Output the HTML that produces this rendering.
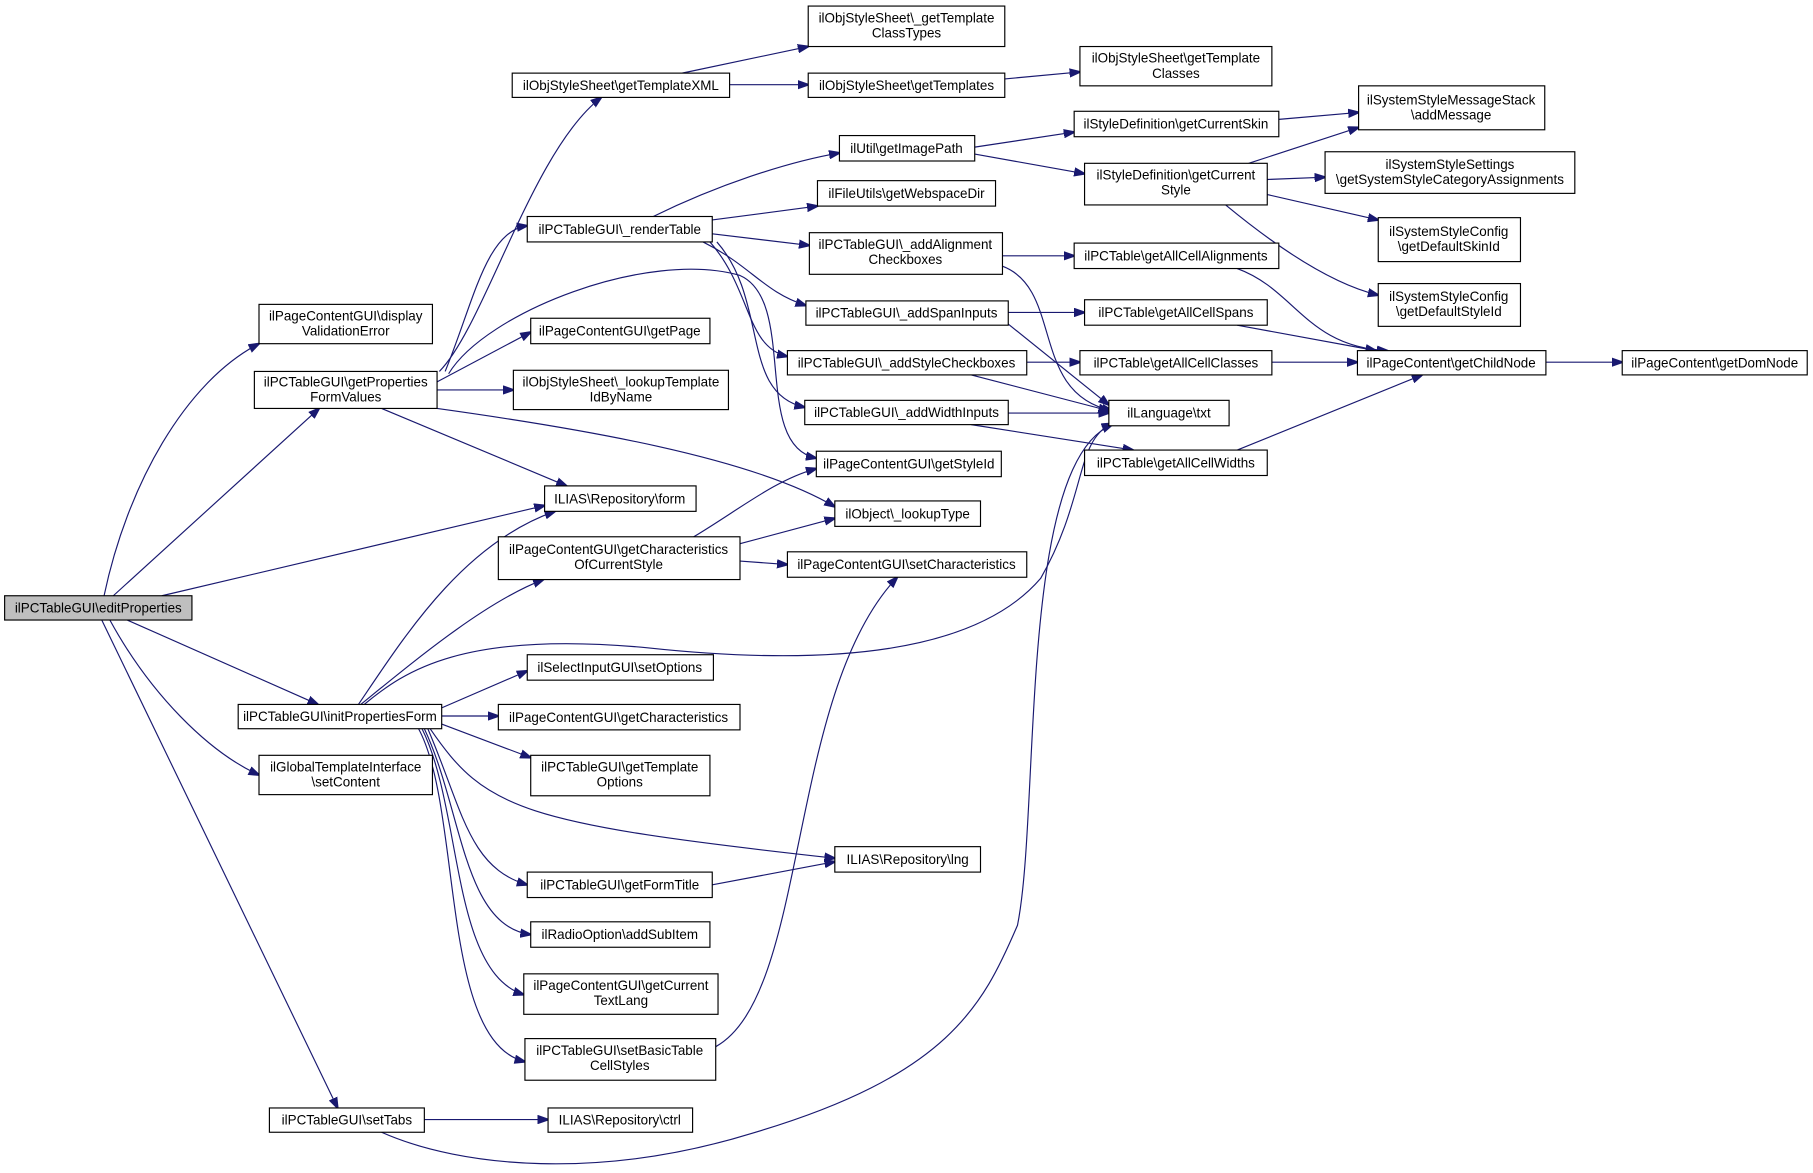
<!DOCTYPE html>
<html><head><meta charset="utf-8"><style>
html,body{margin:0;padding:0;background:#fff;}
svg{display:block;}
text{font-family:"Liberation Sans",Arial,sans-serif;font-size:11.6px;fill:#000;}
.n{fill:#fff;stroke:#000;stroke-width:1;}
.e{fill:none;stroke:#191970;stroke-width:1;}
</style></head><body>
<svg width="1813" height="1173" viewBox="0 0 1568 1014" xmlns="http://www.w3.org/2000/svg">
<defs><marker id="a" markerWidth="10" markerHeight="8" refX="9" refY="4" orient="auto" markerUnits="userSpaceOnUse"><path d="M0,0.5 L10,4 L0,7.5 Z" fill="#191970" stroke="#191970"/></marker></defs>
<g class="edges">
<path class="e" marker-end="url(#a)" d="M90,515 C110,420 160,330 224,297"/>
<path class="e" marker-end="url(#a)" d="M98,515 L276,353"/>
<path class="e" marker-end="url(#a)" d="M140,515 L471,437"/>
<path class="e" marker-end="url(#a)" d="M110,536 L275,609"/>
<path class="e" marker-end="url(#a)" d="M95,536 C130,600 180,650 224,670"/>
<path class="e" marker-end="url(#a)" d="M88,536 L292,958"/>
<path class="e" marker-end="url(#a)" d="M380,321 C420,280 460,130 520,84"/>
<path class="e" marker-end="url(#a)" d="M385,321 C410,260 420,200 456,195"/>
<path class="e" marker-end="url(#a)" d="M378,330 L459,287"/>
<path class="e" marker-end="url(#a)" d="M378,337 L444,337"/>
<path class="e" marker-end="url(#a)" d="M330,353 L490,420"/>
<path class="e" marker-end="url(#a)" d="M378,353 C500,370 650,395 722,438"/>
<path class="e" marker-end="url(#a)" d="M388,323 C420,270 560,215 640,238 C690,260 650,385 706,396"/>
<path class="e" marker-end="url(#a)" d="M590,63 L699,40"/>
<path class="e" marker-end="url(#a)" d="M631,73 L699,73"/>
<path class="e" marker-end="url(#a)" d="M869,68 L934,62"/>
<path class="e" marker-end="url(#a)" d="M565,187 C620,160 680,140 726,132"/>
<path class="e" marker-end="url(#a)" d="M616,190 L707,178"/>
<path class="e" marker-end="url(#a)" d="M616,202 L700,212"/>
<path class="e" marker-end="url(#a)" d="M608,209 C650,230 660,252 697,264"/>
<path class="e" marker-end="url(#a)" d="M614,209 C650,250 645,300 681,308"/>
<path class="e" marker-end="url(#a)" d="M620,209 C665,260 640,340 696,352"/>
<path class="e" marker-end="url(#a)" d="M843,127 L929,114"/>
<path class="e" marker-end="url(#a)" d="M843,133 L938,150"/>
<path class="e" marker-end="url(#a)" d="M1106,103 L1175,97"/>
<path class="e" marker-end="url(#a)" d="M1080,141 L1175,110"/>
<path class="e" marker-end="url(#a)" d="M1096,155 L1146,153"/>
<path class="e" marker-end="url(#a)" d="M1096,168 L1192,190"/>
<path class="e" marker-end="url(#a)" d="M1060,177 C1100,210 1150,245 1192,255"/>
<path class="e" marker-end="url(#a)" d="M867,221 L929,221"/>
<path class="e" marker-end="url(#a)" d="M867,230 C920,250 890,340 962,355"/>
<path class="e" marker-end="url(#a)" d="M872,270 L938,270"/>
<path class="e" marker-end="url(#a)" d="M872,280 L959,350"/>
<path class="e" marker-end="url(#a)" d="M840,324 L959,355"/>
<path class="e" marker-end="url(#a)" d="M888,313 L934,313"/>
<path class="e" marker-end="url(#a)" d="M872,357 L959,357"/>
<path class="e" marker-end="url(#a)" d="M840,367 L980,389"/>
<path class="e" marker-end="url(#a)" d="M1070,232 C1120,250 1130,300 1200,303"/>
<path class="e" marker-end="url(#a)" d="M1070,281 L1190,303"/>
<path class="e" marker-end="url(#a)" d="M1100,313 L1174,313"/>
<path class="e" marker-end="url(#a)" d="M1070,389 L1230,324"/>
<path class="e" marker-end="url(#a)" d="M1337,313 L1403,313"/>
<path class="e" marker-end="url(#a)" d="M310,609 C350,550 400,470 480,442"/>
<path class="e" marker-end="url(#a)" d="M312,609 C360,570 420,520 470,501"/>
<path class="e" marker-end="url(#a)" d="M315,609 C350,580 400,545 560,560 C700,575 840,570 900,500 C940,430 930,380 962,366"/>
<path class="e" marker-end="url(#a)" d="M382,612 L456,580"/>
<path class="e" marker-end="url(#a)" d="M382,619 L431,619"/>
<path class="e" marker-end="url(#a)" d="M382,626 L459,655"/>
<path class="e" marker-end="url(#a)" d="M372,630 C420,700 450,712 722,742"/>
<path class="e" marker-end="url(#a)" d="M370,630 C400,700 405,750 456,765"/>
<path class="e" marker-end="url(#a)" d="M367,630 C400,700 400,800 459,808"/>
<path class="e" marker-end="url(#a)" d="M365,630 C400,700 390,840 453,860"/>
<path class="e" marker-end="url(#a)" d="M362,630 C400,700 380,900 454,918"/>
<path class="e" marker-end="url(#a)" d="M600,464 C640,440 670,415 706,405"/>
<path class="e" marker-end="url(#a)" d="M640,470 L722,448"/>
<path class="e" marker-end="url(#a)" d="M640,485 L681,488"/>
<path class="e" marker-end="url(#a)" d="M616,765 L722,745"/>
<path class="e" marker-end="url(#a)" d="M619,905 C700,860 680,600 776,499"/>
<path class="e" marker-end="url(#a)" d="M367,968 L474,968"/>
<path class="e" marker-end="url(#a)" d="M330,979 C400,1010 520,1020 650,980 C820,930 850,870 880,800 C900,700 880,400 962,367"/>
</g>
<g>
<rect x="4" y="515" width="162" height="21" fill="#bfbfbf" stroke="#000"/><text x="85" y="529.5" text-anchor="middle">ilPCTableGUI\editProperties</text>
<rect class="n" x="224" y="263" width="150" height="34"/><text x="299" y="277" text-anchor="middle">ilPageContentGUI\display</text><text x="299" y="290" text-anchor="middle">ValidationError</text>
<rect class="n" x="220" y="321" width="158" height="32"/><text x="299" y="334" text-anchor="middle">ilPCTableGUI\getProperties</text><text x="299" y="347" text-anchor="middle">FormValues</text>
<rect class="n" x="471" y="420" width="131" height="22"/><text x="536" y="435" text-anchor="middle">ILIAS\Repository\form</text>
<rect class="n" x="206" y="609" width="176" height="21"/><text x="294" y="623.5" text-anchor="middle">ilPCTableGUI\initPropertiesForm</text>
<rect class="n" x="224" y="653" width="150" height="34"/><text x="299" y="667" text-anchor="middle">ilGlobalTemplateInterface</text><text x="299" y="680" text-anchor="middle">\setContent</text>
<rect class="n" x="233" y="958" width="134" height="21"/><text x="300" y="972.5" text-anchor="middle">ilPCTableGUI\setTabs</text>
<rect class="n" x="443" y="63" width="188" height="21"/><text x="537" y="77.5" text-anchor="middle">ilObjStyleSheet\getTemplateXML</text>
<rect class="n" x="699" y="5" width="170" height="35"/><text x="784" y="19" text-anchor="middle">ilObjStyleSheet\_getTemplate</text><text x="784" y="32" text-anchor="middle">ClassTypes</text>
<rect class="n" x="699" y="63" width="170" height="21"/><text x="784" y="77.5" text-anchor="middle">ilObjStyleSheet\getTemplates</text>
<rect class="n" x="934" y="40" width="166" height="34"/><text x="1017" y="54" text-anchor="middle">ilObjStyleSheet\getTemplate</text><text x="1017" y="67" text-anchor="middle">Classes</text>
<rect class="n" x="456" y="187" width="160" height="22"/><text x="536" y="202" text-anchor="middle">ilPCTableGUI\_renderTable</text>
<rect class="n" x="459" y="275" width="155" height="22"/><text x="536" y="290" text-anchor="middle">ilPageContentGUI\getPage</text>
<rect class="n" x="444" y="320" width="186" height="34"/><text x="537" y="334" text-anchor="middle">ilObjStyleSheet\_lookupTemplate</text><text x="537" y="347" text-anchor="middle">IdByName</text>
<rect class="n" x="431" y="464" width="209" height="37"/><text x="535" y="479" text-anchor="middle">ilPageContentGUI\getCharacteristics</text><text x="535" y="492" text-anchor="middle">OfCurrentStyle</text>
<rect class="n" x="456" y="566" width="161" height="22"/><text x="536" y="581" text-anchor="middle">ilSelectInputGUI\setOptions</text>
<rect class="n" x="431" y="609" width="209" height="22"/><text x="535" y="624" text-anchor="middle">ilPageContentGUI\getCharacteristics</text>
<rect class="n" x="459" y="653" width="155" height="35"/><text x="536" y="667" text-anchor="middle">ilPCTableGUI\getTemplate</text><text x="536" y="680" text-anchor="middle">Options</text>
<rect class="n" x="456" y="754" width="160" height="22"/><text x="536" y="769" text-anchor="middle">ilPCTableGUI\getFormTitle</text>
<rect class="n" x="459" y="797" width="155" height="22"/><text x="536" y="812" text-anchor="middle">ilRadioOption\addSubItem</text>
<rect class="n" x="453" y="842" width="168" height="35"/><text x="537" y="856" text-anchor="middle">ilPageContentGUI\getCurrent</text><text x="537" y="869" text-anchor="middle">TextLang</text>
<rect class="n" x="454" y="898" width="165" height="36"/><text x="536" y="912" text-anchor="middle">ilPCTableGUI\setBasicTable</text><text x="536" y="925" text-anchor="middle">CellStyles</text>
<rect class="n" x="474" y="958" width="125" height="21"/><text x="536" y="972.5" text-anchor="middle">ILIAS\Repository\ctrl</text>
<rect class="n" x="726" y="117" width="117" height="22"/><text x="784" y="132" text-anchor="middle">ilUtil\getImagePath</text>
<rect class="n" x="707" y="156" width="154" height="22"/><text x="784" y="171" text-anchor="middle">ilFileUtils\getWebspaceDir</text>
<rect class="n" x="700" y="201" width="167" height="36"/><text x="783" y="215" text-anchor="middle">ilPCTableGUI\_addAlignment</text><text x="783" y="228" text-anchor="middle">Checkboxes</text>
<rect class="n" x="697" y="260" width="175" height="21"/><text x="784" y="274.5" text-anchor="middle">ilPCTableGUI\_addSpanInputs</text>
<rect class="n" x="681" y="303" width="207" height="21"/><text x="784" y="317.5" text-anchor="middle">ilPCTableGUI\_addStyleCheckboxes</text>
<rect class="n" x="696" y="346" width="176" height="21"/><text x="784" y="360.5" text-anchor="middle">ilPCTableGUI\_addWidthInputs</text>
<rect class="n" x="706" y="390" width="160" height="22"/><text x="786" y="405" text-anchor="middle">ilPageContentGUI\getStyleId</text>
<rect class="n" x="722" y="433" width="126" height="22"/><text x="785" y="448" text-anchor="middle">ilObject\_lookupType</text>
<rect class="n" x="681" y="477" width="207" height="22"/><text x="784" y="492" text-anchor="middle">ilPageContentGUI\setCharacteristics</text>
<rect class="n" x="722" y="732" width="126" height="22"/><text x="785" y="747" text-anchor="middle">ILIAS\Repository\lng</text>
<rect class="n" x="929" y="96" width="177" height="22"/><text x="1017" y="111" text-anchor="middle">ilStyleDefinition\getCurrentSkin</text>
<rect class="n" x="938" y="141" width="158" height="36"/><text x="1017" y="155" text-anchor="middle">ilStyleDefinition\getCurrent</text><text x="1017" y="168" text-anchor="middle">Style</text>
<rect class="n" x="929" y="210" width="177" height="22"/><text x="1017" y="225" text-anchor="middle">ilPCTable\getAllCellAlignments</text>
<rect class="n" x="938" y="259" width="158" height="22"/><text x="1017" y="274" text-anchor="middle">ilPCTable\getAllCellSpans</text>
<rect class="n" x="934" y="303" width="166" height="21"/><text x="1017" y="317.5" text-anchor="middle">ilPCTable\getAllCellClasses</text>
<rect class="n" x="959" y="346" width="104" height="22"/><text x="1011" y="361" text-anchor="middle">ilLanguage\txt</text>
<rect class="n" x="938" y="389" width="158" height="22"/><text x="1017" y="404" text-anchor="middle">ilPCTable\getAllCellWidths</text>
<rect class="n" x="1175" y="74" width="161" height="38"/><text x="1255" y="90" text-anchor="middle">ilSystemStyleMessageStack</text><text x="1255" y="103" text-anchor="middle">\addMessage</text>
<rect class="n" x="1146" y="131" width="216" height="36"/><text x="1254" y="146" text-anchor="middle">ilSystemStyleSettings</text><text x="1254" y="159" text-anchor="middle">\getSystemStyleCategoryAssignments</text>
<rect class="n" x="1192" y="188" width="123" height="38"/><text x="1253" y="204" text-anchor="middle">ilSystemStyleConfig</text><text x="1253" y="217" text-anchor="middle">\getDefaultSkinId</text>
<rect class="n" x="1192" y="245" width="123" height="37"/><text x="1253" y="260" text-anchor="middle">ilSystemStyleConfig</text><text x="1253" y="273" text-anchor="middle">\getDefaultStyleId</text>
<rect class="n" x="1174" y="303" width="163" height="21"/><text x="1255" y="317.5" text-anchor="middle">ilPageContent\getChildNode</text>
<rect class="n" x="1403" y="303" width="160" height="21"/><text x="1483" y="317.5" text-anchor="middle">ilPageContent\getDomNode</text>
</g>
</svg>
</body></html>
